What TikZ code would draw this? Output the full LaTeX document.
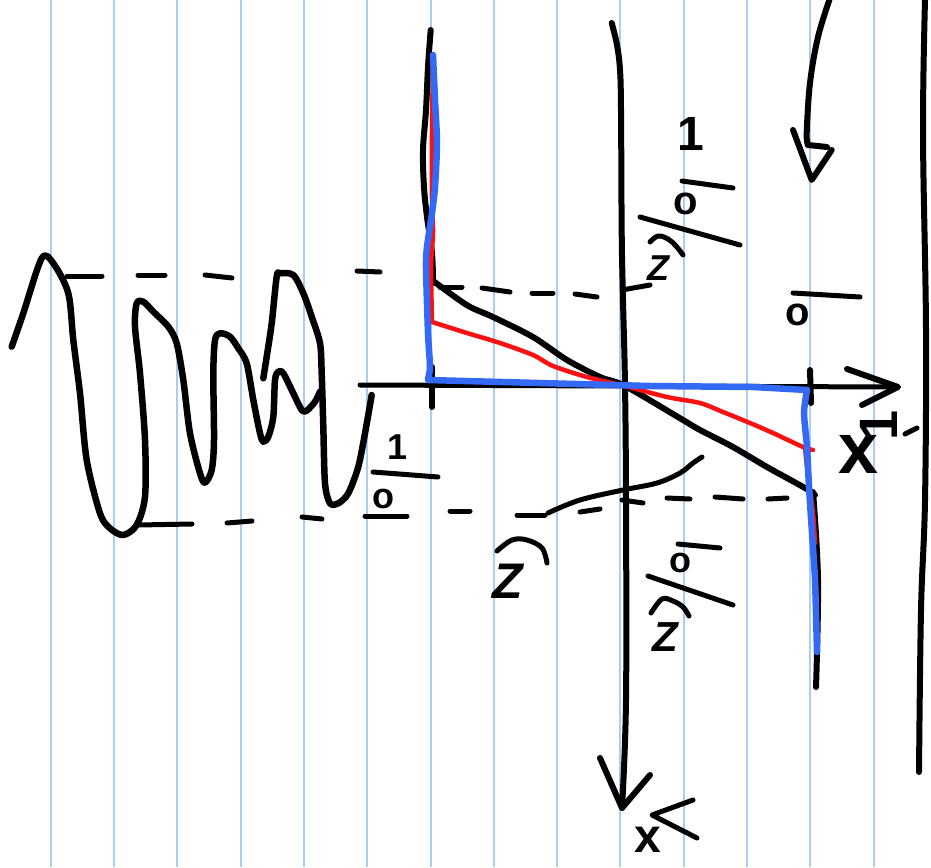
\documentclass[tikz,border=0pt]{standalone}
\usepackage{fontspec}
\newfontfamily\hand{Liberation Sans}
\newcommand\handsize[1]{\fontsize{#1}{#1}\selectfont}
\definecolor{paper}{RGB}{168,206,248}
\definecolor{penblue}{RGB}{52,105,245}
\definecolor{penred}{RGB}{250,18,18}
\begin{document}
\begin{tikzpicture}[x=1pt,y=-1pt,
  ink/.style={draw=black, line width=6pt, line cap=round, line join=round},
  thinink/.style={draw=black, line width=5pt, line cap=round, line join=round},
  rule/.style={draw=paper, line width=2pt},
  dashseg/.style={draw=black, line width=5pt, line cap=round},
  redpen/.style={draw=penred, line width=4.5pt, line cap=round, line join=round},
  bluepen/.style={draw=penblue, line width=6.5pt, line cap=round, line join=round},
  lab/.style={font=\hand\bfseries, inner sep=0pt, text=black}]
\useasboundingbox (0,0) rectangle (931,867);
\fill[white] (0,0) rectangle (931,867);
% paper rules
\foreach \k in {0,...,13} \draw[rule] ({50.7+63.3*\k},0) -- ({50.7+63.3*\k},867);

% signal wave
\draw[ink, line width=6.5pt] plot[smooth, tension=0.5] coordinates {
 (11.7,346.7) (23.3,313.3) (41.7,258.3) (53.3,263.3) (68.3,293.3) (73.3,340)
 (80,393.3) (86.7,460) (100,513.3) (110,528.3) (123.3,535) (136.7,525) (145,496.7)
 (145,440) (140,373.3) (135,326.7) (136.7,303.3) (143.3,301.7) (153.3,311.7)
 (168.3,326.7) (176.7,343.3) (183.3,380) (190,433.3) (200,473.3) (205,482.7)
 (211.7,470) (214,440) (213.3,373.3) (215,340) (220,333.3) (230,336.7) (238.3,348.3)
 (246.7,363.3) (253.3,400) (260,433.3) (263.3,441.7) (268.3,436.7) (273.3,416.7)
 (275,380) (278.3,371.7) (283.3,373.3) (293.3,393.3) (301.7,410) (306.7,410.7)
 (315,401.7) (320,391.7)};
\draw[ink, line width=6.5pt] plot[smooth, tension=0.5] coordinates {
 (263.3,378.3) (266.7,356.7) (271.7,323.3) (276.7,276.7) (280,273.3) (293.3,275)
 (303.3,293.3) (311.7,316.7) (320,343.3) (321.7,373.3) (323.3,426.7) (325,483.3)
 (330,503.3) (338.3,503.3) (348.3,493.3) (358.3,466.7) (365,433.3) (371.7,395)};

% dashed levels
\foreach \xa/\ya/\xb/\yb in {67/276/102/276, 138/275/165/275, 205/275/232/278,
  357/271/380/272, 440/287/462/287, 482/288/510/292, 532/293/553/293,
  575/294/597/297, 622/290/650/285}
  \draw[dashseg] (\xa,\ya) -- (\xb,\yb);
\foreach \xa/\ya/\xb/\yb in {138/525/192/524, 227/523/252/521, 302/517/322/519,
  365/516/407/516, 450/511/470/511, 517/515/545/515, 580/512/600/509,
  622/500/643/503, 667/498/690/499, 715/497/743/499, 768/499/787/498}
  \draw[dashseg] (\xa,\ya) -- (\xb,\yb);

% horizontal axis with arrow
\draw[thinink] (360,385) -- (625,386) -- (898,387);
\draw[ink] (847,369) -- (898,387) -- (862,405);

% vertical axis with arrow
\draw[ink] plot[smooth, tension=0.6] coordinates {(611.7,23) (617,45) (620,70) (621,110)
  (621.7,233) (623,300) (625,385) (626,500) (626,700) (622,808)};
\draw[ink] (600,758) -- (622,808) -- (650,775);

% left bound
\draw[ink] plot[smooth, tension=0.6] coordinates {(430.7,30) (428,67) (426,110) (423,150)
  (424,187) (427,217) (432,253) (433,283)};
\draw[ink] (432,367) -- (432,407);
% right bound
\draw[ink] (810,370) -- (811,403);
\draw[ink] plot[smooth, tension=0.6] coordinates {(813,492) (818,580) (816,687)};

% far right line
\draw[ink] plot[smooth, tension=0.6] coordinates {(925,0) (923,133) (926,330) (925,500)
  (921,610) (919,772)};

% top right arrow
\draw[ink] plot[smooth, tension=0.6] coordinates {(830,-2) (818,37) (810,83) (806.7,133) (808,145)};
\draw[ink] (793,130) -- (811.7,180) -- (831.7,150);
\draw[ink] (808,145) -- (827,147);

% black linear characteristic
\draw[ink] plot[smooth, tension=0.5] coordinates {(432,280) (466.7,305) (493,317)
  (533,337) (567,360) (600,377) (625,386) (683,420) (700,430) (733,447) (767,467)
  (805,488) (815,495)};

% curved stroke near lower level
\draw[thinink] plot[smooth, tension=0.6] coordinates {(548,513) (580,500) (623,490)
  (657,483) (680,473) (693,463) (702,457)};

% red characteristic
\draw[redpen] plot[smooth, tension=0.4] coordinates {(433,60) (432,133) (432,200)
  (433,233) (431,267) (432,321)};
\draw[redpen] plot[smooth, tension=0.5] coordinates {(432,322) (467,333) (500,343)
  (533,355) (553,366) (587,377) (625,386) (667,397) (700,403) (723,412) (750,423)
  (773,433) (803,447) (813,450)};
\draw[redpen] plot[smooth, tension=0.5] coordinates {(805,447) (807,467) (813,513) (815,543)};

% blue characteristic
\draw[bluepen] plot[smooth, tension=0.4] coordinates {(433,55) (435,100) (437,143)
  (435,187) (432,213) (427,247) (426,267) (428,333) (430,367) (428,379)};
\draw[bluepen] (428,380) -- (650,386) -- (753,387) -- (807,390);
\draw[bluepen] plot[smooth, tension=0.4] coordinates {(807,390) (804,413) (807,447)
  (809,487) (812,533) (815,580) (817,652)};

% labels: top group
\node[lab] (onetop) at (691,134) {\handsize{48}1};
\draw[thinink] (682,181) -- (733,188);
\node[lab] (otop) at (686,204) {\handsize{40}o};
\draw[thinink] (640,217) -- (740,245);
\draw[thinink] plot[smooth, tension=0.6] coordinates {(650,242) (658,236) (668,239) (676,246) (683,255)};
\node[lab] (ztop) at (658,268) {\handsize{36}\itshape Z};

% right zero
\draw[dashseg] (793,293) -- (860,297);
\node[lab] (ozero) at (798,315) {\handsize{40}o};

% left group
\node[lab] (oneleft) at (398,447) {\handsize{36}1};
\draw[thinink] (373,472) -- (438,477);
\node[lab] (oleft) at (383,499) {\handsize{36}o};

% lower-left group
\draw[thinink] plot[smooth, tension=0.6] coordinates {(497,551) (512,540) (527,540) (542,548) (547,563)};
\node[lab] (zleft) at (508,581) {\handsize{50}\itshape Z};

% lower group
\draw[thinink] (678,544) -- (720,548);
\node[lab] (obot) at (680,563) {\handsize{36}o};
\draw[thinink] (648,576) -- (733,605);
\draw[thinink] plot[smooth, tension=0.6] coordinates {(651,613) (662,599) (673,601) (683,607) (689,616)};
\node[lab] (zbot) at (665,637) {\handsize{42}\itshape Z};

% axis labels
\node[lab] (xone) at (859,454) {\handsize{72}x};
\node[lab, rotate=90] (subone) at (879,425) {\handsize{54}1};
\draw[thinink] (905,434) -- (917,428);
\node[lab] (xbot) at (648,840) {\handsize{48}x};
\draw[thinink] (693,800) -- (652,815) -- (697,838);
\end{tikzpicture}
\end{document}
